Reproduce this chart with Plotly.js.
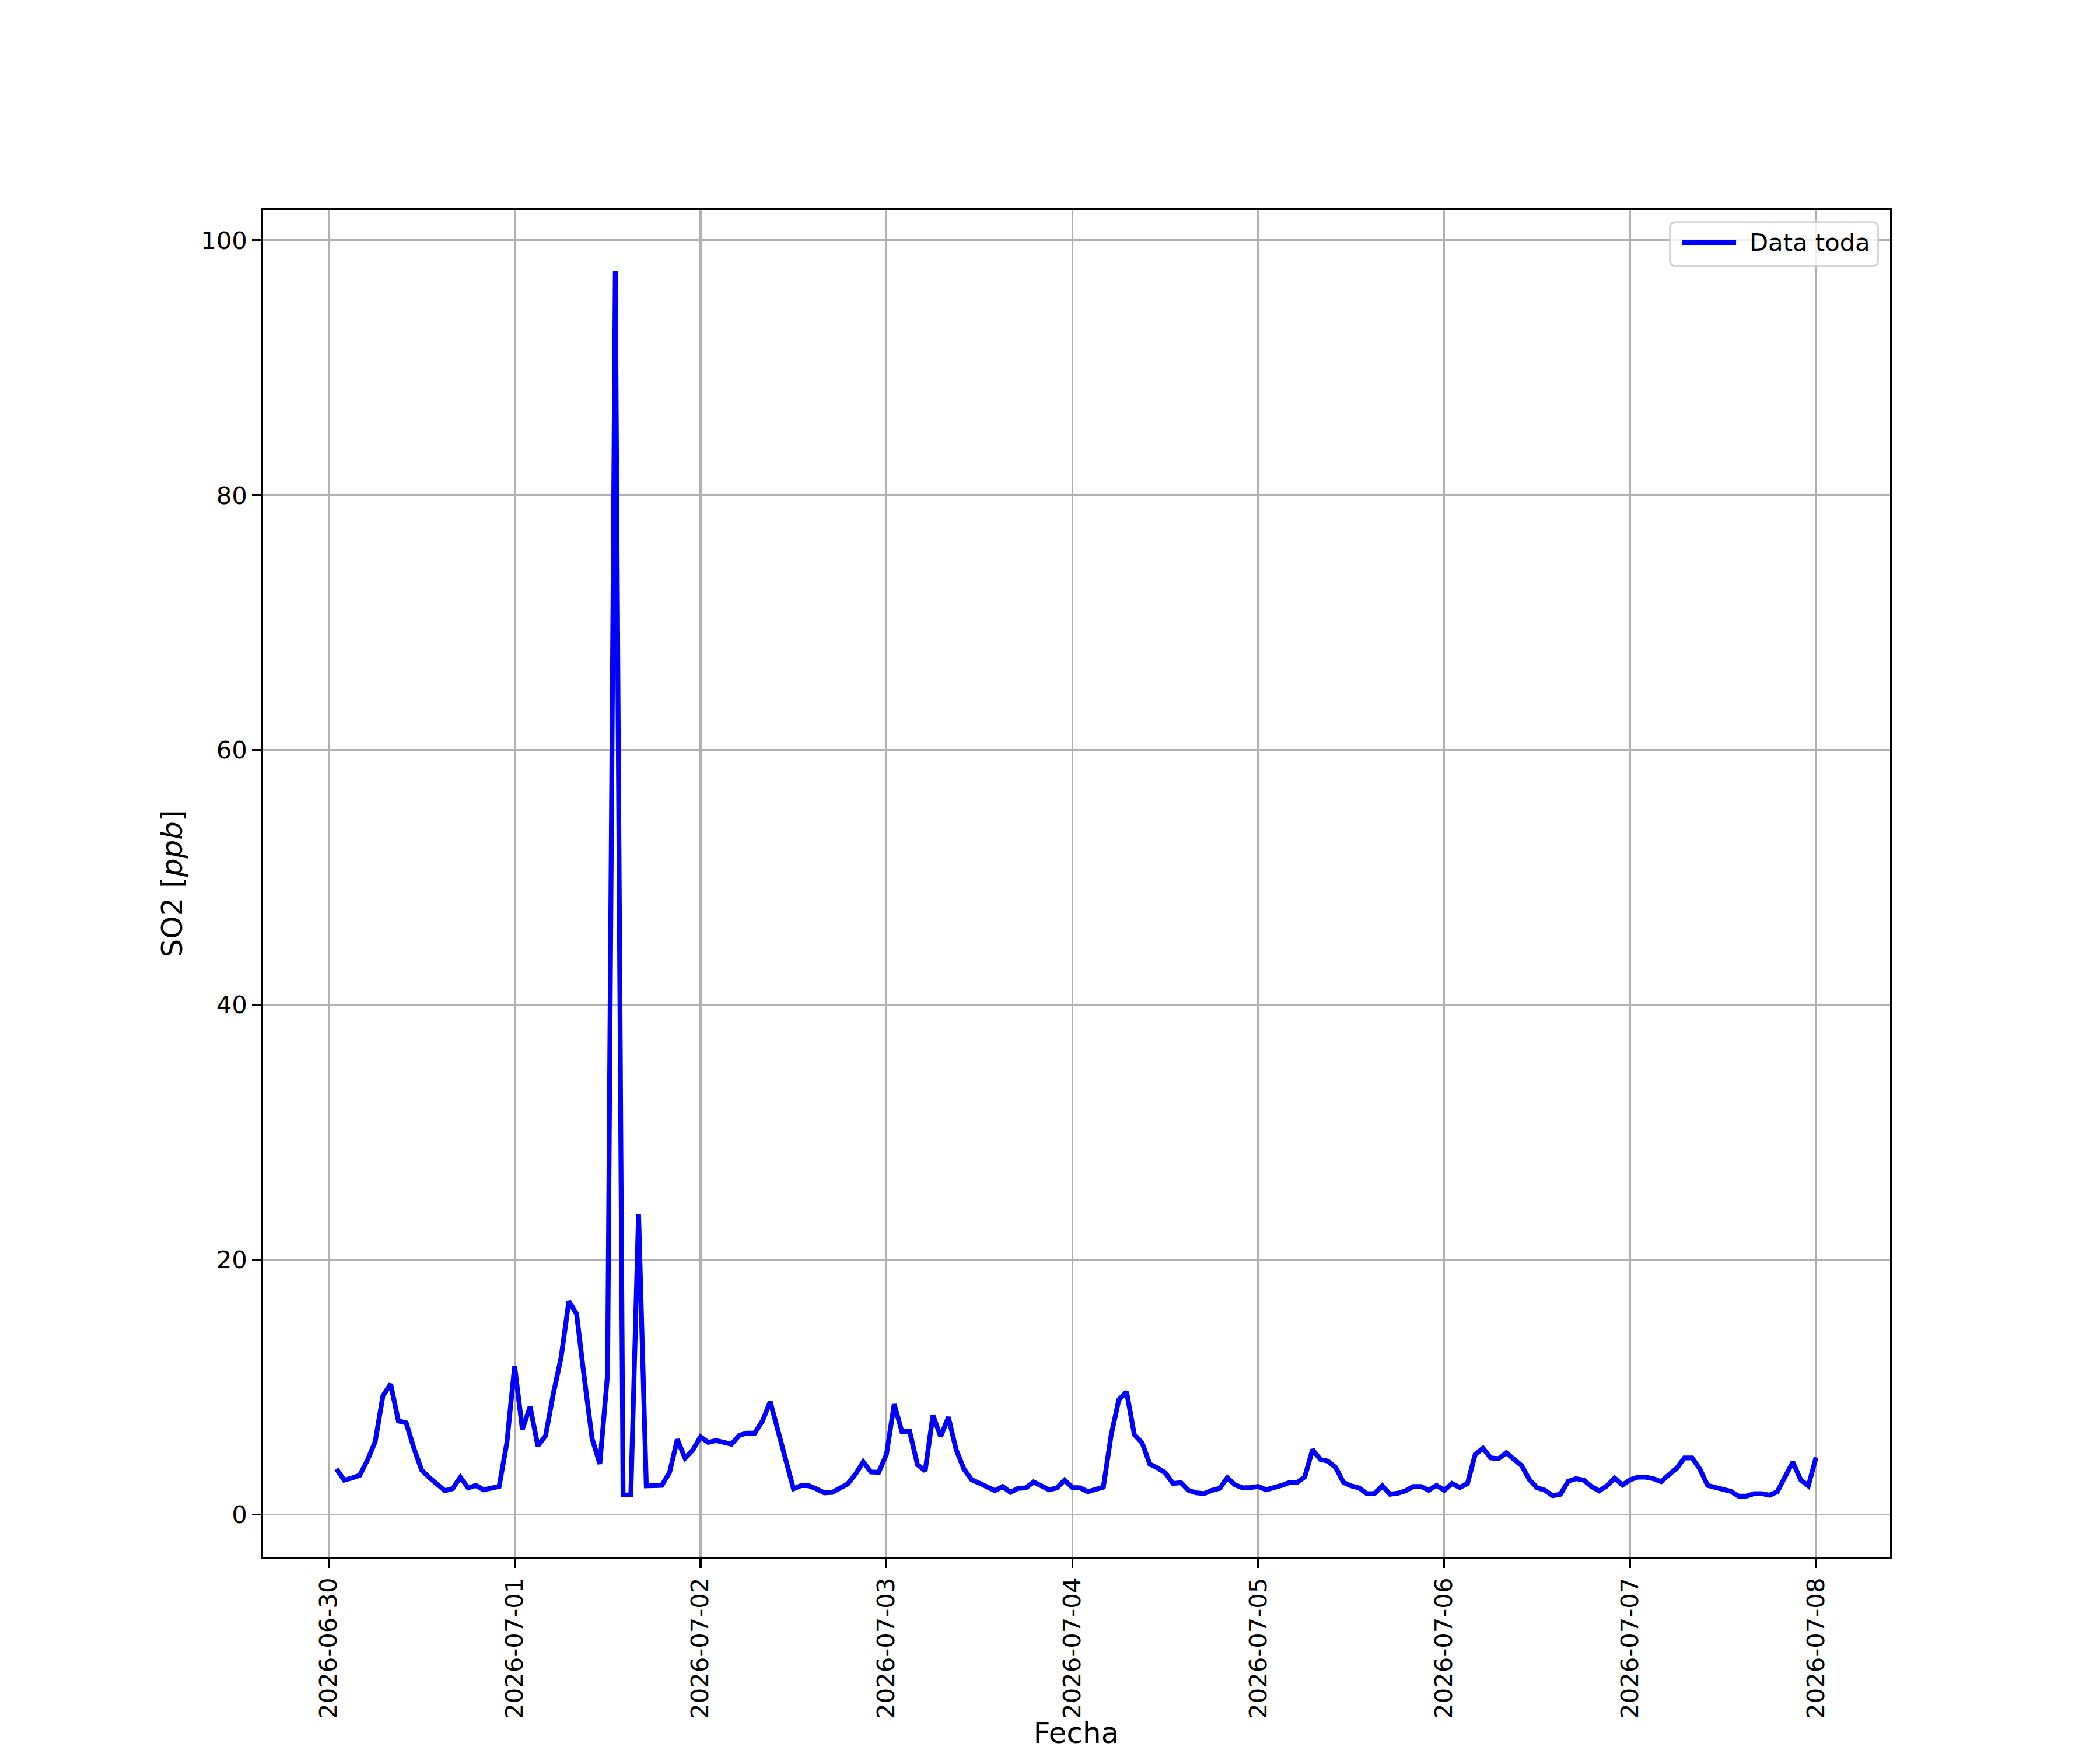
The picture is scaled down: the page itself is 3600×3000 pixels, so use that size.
<!DOCTYPE html>
<html>
<head>
<meta charset="utf-8">
<script src="https://cdn.plot.ly/plotly-3.0.1.min.js"></script>
<style>html,body{margin:0;padding:0;background:#fff;}#chart{width:3600px;height:3000px;}</style>
</head>
<body>
<div id="chart"></div>
<script>
// Hourly SO2 series, first sample 2026-06-30 01:00
var startTime = '2026-06-30T01:00:00Z';
var day0630 = [3.58,2.71,2.87,3.09,4.27,5.72,9.33,10.24,7.35,7.2,5.21,3.5,2.9,2.44,1.88,2.04,2.94,2.1,2.29,1.95,2.1,2.21,5.64];
var day0701 = [11.66,6.7,8.47,5.39,6.2,9.5,12.34,16.74,15.75,10.7,5.97,3.98,11.04,97.57,1.54,1.54,23.6,2.26,2.26,2.3,3.3,5.9,4.43,5.07];
var day0702 = [6.1,5.67,5.82,5.64,5.53,6.22,6.4,6.4,7.35,8.87,6.7,4.27,2.03,2.29,2.26,2.01,1.71,1.75,2.03,2.41,3.17,4.15,3.35,3.32];
var day0703 = [4.73,8.66,6.52,6.52,3.93,3.43,7.8,6.13,7.65,5.1,3.58,2.74,2.47,2.21,1.88,2.21,1.75,2.06,2.1,2.56,2.29,1.95,2.1,2.71];
var day0704 = [2.13,2.1,1.8,2.03,2.16,6.22,9.02,9.63,6.28,5.64,3.96,3.66,3.28,2.44,2.52,1.91,1.71,1.65,1.91,2.06,2.9,2.33,2.1,2.13];
var day0705 = [2.21,1.95,2.1,2.29,2.52,2.52,2.97,5.1,4.34,4.19,3.69,2.52,2.26,2.1,1.65,1.65,2.26,1.6,1.68,1.86,2.21,2.21,1.91,2.29];
var day0706 = [1.91,2.44,2.13,2.44,4.73,5.21,4.45,4.39,4.85,4.34,3.84,2.74,2.1,1.91,1.49,1.6,2.62,2.82,2.71,2.21,1.86,2.26,2.87,2.32];
var day0707 = [2.74,2.94,2.94,2.82,2.59,3.13,3.63,4.45,4.45,3.58,2.29,2.13,1.95,1.83,1.45,1.45,1.65,1.65,1.52,1.8,2.97,4.12,2.74,2.26];
var day0708 = [4.5];

var tickDates = ['2026-06-30','2026-07-01','2026-07-02','2026-07-03','2026-07-04','2026-07-05','2026-07-06','2026-07-07','2026-07-08'];
var yTicks = [0,20,40,60,80,100];
var seriesName = 'Data toda';
var xTitle = 'Fecha';
var yTitle = 'SO2 [<i>ppb</i>]';
var lineColor = '#0000ff';

var so2 = [].concat(day0630, day0701, day0702, day0703, day0704, day0705, day0706, day0707, day0708);
var t0 = Date.parse(startTime);
function pad(n){return (n<10?'0':'')+n;}
var times = so2.map(function(v, i){
  var d = new Date(t0 + i*3600000);
  return d.getUTCFullYear()+'-'+pad(d.getUTCMonth()+1)+'-'+pad(d.getUTCDate())+' '+pad(d.getUTCHours())+':00';
});

var font = 'DejaVu Sans, Liberation Sans, sans-serif';
var trace = {
  x: times, y: so2, type: 'scatter', mode: 'lines', name: seriesName,
  line: {color: lineColor, width: 8.3}, showlegend: false
};
var axisCommon = {
  showline: true, linecolor: '#000', linewidth: 3.3, mirror: true,
  ticks: 'outside', ticklen: 14.6, tickwidth: 3.3, tickcolor: '#000',
  showgrid: true, gridcolor: '#b0b0b0', gridwidth: 3.3,
  zeroline: false,
  tickfont: {family: font, size: 41.7, color: '#000'}
};

// legend box (matplotlib-style, rounded) in paper coordinates
var bx0 = 0.8648, bx1 = 0.9926, by0 = 0.9584, by1 = 0.9909;
var rx = 10/2790, ry = 10/2310;
var boxPath = 'M' + (bx0+rx) + ',' + by1 +
  ' L' + (bx1-rx) + ',' + by1 + ' Q' + bx1 + ',' + by1 + ' ' + bx1 + ',' + (by1-ry) +
  ' L' + bx1 + ',' + (by0+ry) + ' Q' + bx1 + ',' + by0 + ' ' + (bx1-rx) + ',' + by0 +
  ' L' + (bx0+rx) + ',' + by0 + ' Q' + bx0 + ',' + by0 + ' ' + bx0 + ',' + (by0+ry) +
  ' L' + bx0 + ',' + (by1-ry) + ' Q' + bx0 + ',' + by1 + ' ' + (bx0+rx) + ',' + by1 + ' Z';

var layout = {
  width: 3600, height: 3000,
  margin: {l: 450, r: 360, t: 360, b: 330},
  paper_bgcolor: '#fff', plot_bgcolor: '#fff',
  showlegend: false,
  xaxis: Object.assign({}, axisCommon, {
    type: 'date',
    range: ['2026-06-29 15:27', '2026-07-08 09:33'],
    tickmode: 'array', tickvals: tickDates, ticktext: tickDates,
    tickangle: -90,
    title: {text: xTitle, font: {family: font, size: 50, color: '#000'}, standoff: 35}
  }),
  yaxis: Object.assign({}, axisCommon, {
    range: [-3.36, 102.38],
    tickmode: 'array', tickvals: yTicks, ticktext: yTicks.map(String),
    title: {text: yTitle, font: {family: font, size: 50, color: '#000'}, standoff: 16}
  }),
  shapes: [
    {type: 'path', xref: 'paper', yref: 'paper', path: boxPath, layer: 'above',
     fillcolor: 'rgba(255,255,255,0.8)', line: {color: 'rgba(204,204,204,0.8)', width: 3.3}},
    {type: 'line', xref: 'paper', yref: 'paper', layer: 'above',
     x0: 0.8724, x1: 0.9054, y0: 0.9758, y1: 0.9758,
     line: {color: lineColor, width: 8.3}}
  ],
  annotations: [
    {xref: 'paper', yref: 'paper', x: 0.9130, y: 0.9758, xanchor: 'left', yanchor: 'middle',
     text: seriesName, showarrow: false, font: {family: font, size: 41.7, color: '#000'}}
  ]
};
Plotly.newPlot('chart', [trace], layout, {staticPlot: true, displayModeBar: false});
</script>
</body>
</html>
